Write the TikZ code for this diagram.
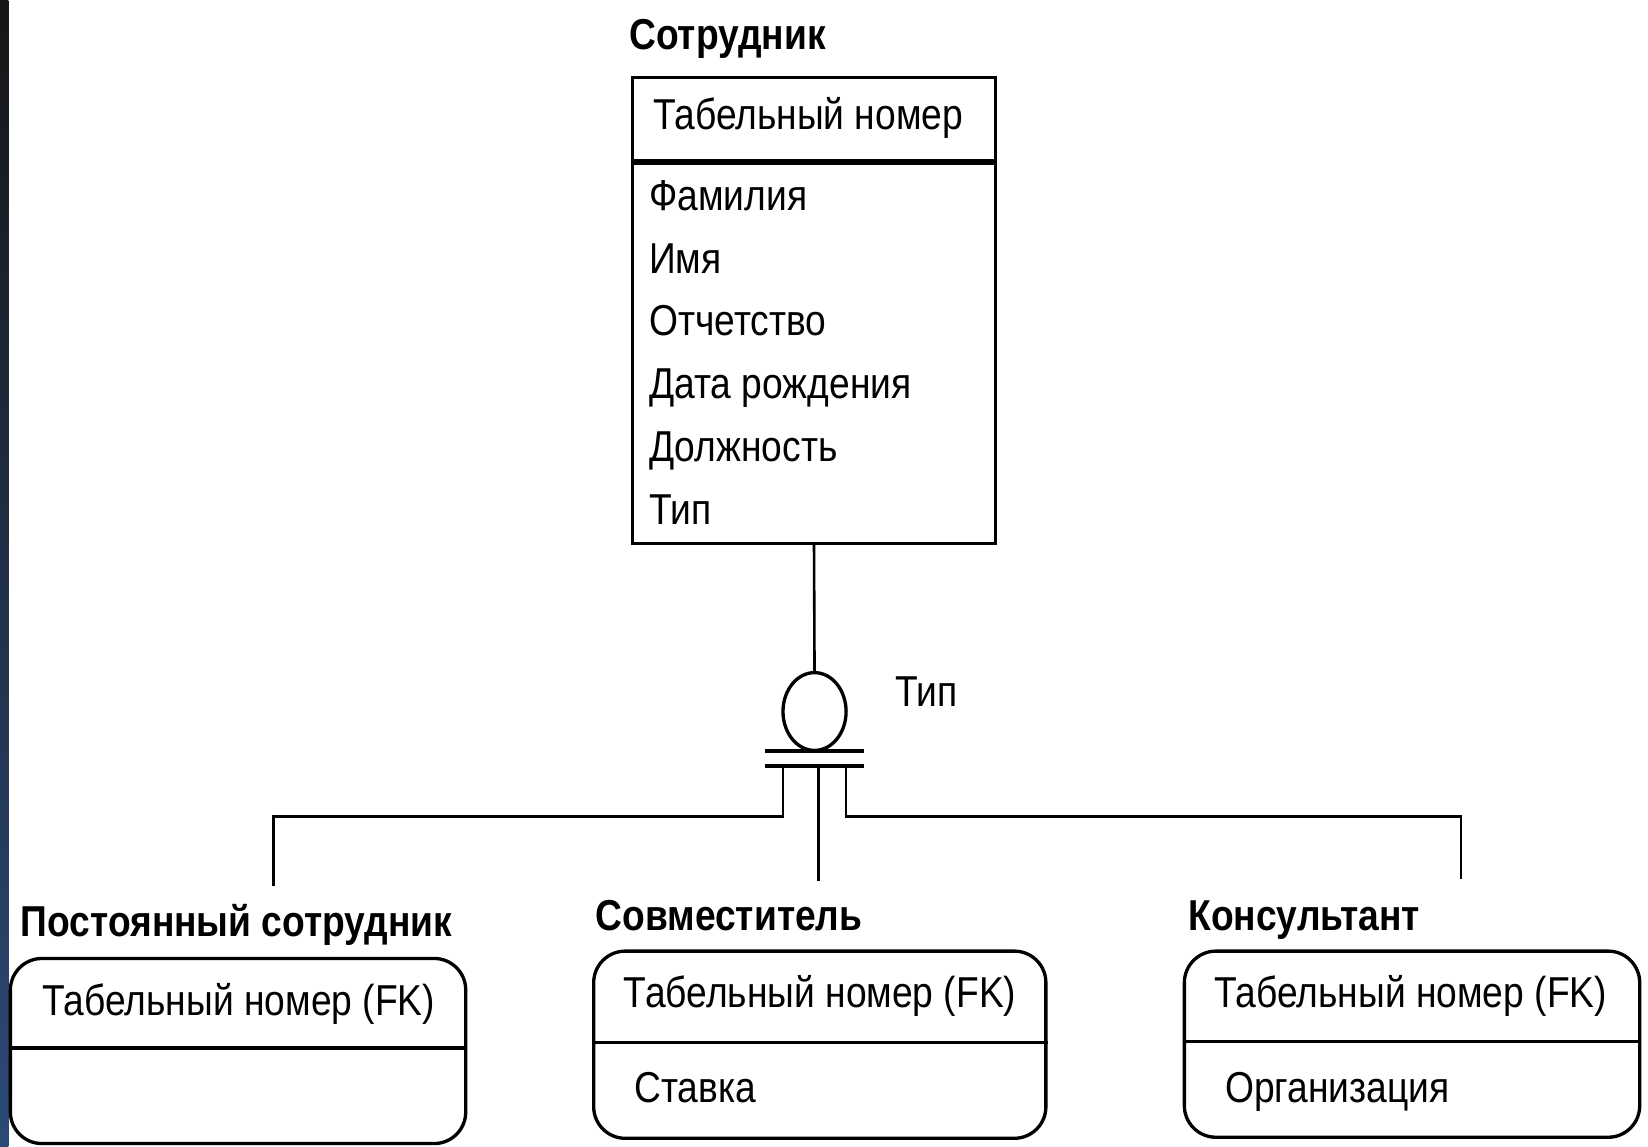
\documentclass[tikz,border=0pt]{standalone}
\usepackage{fontspec}
\setmainfont{Liberation Sans}[FakeStretch=0.86]
\usepackage{xcolor}
\usepackage{tikz}
\usetikzlibrary{backgrounds,shapes.geometric}
\definecolor{EdgeTop}{HTML}{161616}
\definecolor{EdgeBottom}{HTML}{2C4A78}
\tikzset{%
  EntBox/.style={draw,line width=0.9pt,inner sep=0pt},
  EntName/.style={anchor=base west,inner sep=0pt,font=\fontsize{11.7}{14}\selectfont\bfseries},
  EntAttr/.style={anchor=base west,inner sep=0pt,font=\fontsize{11.7}{14}\selectfont},
  ConnLine/.style={line width=0.7pt},
  BarLine/.style={line width=1.2pt}
}

\begin{document}
\begin{tikzpicture}[x=0.01cm,y=-0.01cm]
\useasboundingbox (0,0) rectangle (1568,1091);
\shade [top color=EdgeTop,bottom color=EdgeBottom] (0,0) rectangle (8,1091);

% supertype
\node (e0t) [EntName] at (598,47) {Сотрудник};
\node (e0) [EntBox,minimum width=3.45cm,minimum height=4.43cm] at (774.5,295.5) {};
\draw [line width=1.5pt] (e0.west |- 0,154) -- (e0.east |- 0,154);
\node (e0k) [EntAttr] at (621,123) {Табельный номер};
\foreach \t [count=\i from 0] in {Фамилия,Имя,Отчетство,Дата рождения,Должность,Тип} {
    \node (e0a\i) [EntAttr] at (617,200+59.8*\i) {\t};
}

% discriminator
\node (disc) [draw,ellipse,line width=0.9pt,minimum width=0.6cm,minimum height=0.74cm,inner sep=0pt] at (775,677) {};
\node (disct) [EntAttr] at (851,672) {Тип};
\coordinate (b1w) at (728,714.5);
\coordinate (b1e) at (822,714.5);
\coordinate (b2w) at (728,729);
\coordinate (b2e) at (822,729);
\coordinate (bl) at (745,729);
\coordinate (bm) at (779,729);
\coordinate (br) at (805,729);
\coordinate (s1) at (260,843);
\coordinate (s2) at (779,838);
\coordinate (s3) at (1390,836);

% subtypes
\node (e1t) [EntName] at (19,891) {Постоянный сотрудник};
\node (e1) [EntBox,rounded corners=0.3cm,minimum width=4.33cm,minimum height=1.76cm] at (226.5,1000) {};
\draw [line width=0.9pt] (e1.west |- 0,997) -- (e1.east |- 0,997);
\node (e1k) [EntAttr] at (40,966) {Табельный номер (FK)};

\node (e2t) [EntName] at (566,885) {Совместитель};
\node (e2) [EntBox,rounded corners=0.3cm,minimum width=4.30cm,minimum height=1.78cm] at (780,994) {};
\draw [line width=0.9pt] (e2.west |- 0,992) -- (e2.east |- 0,992);
\node (e2k) [EntAttr] at (593,959) {Табельный номер (FK)};
\node (e2a) [EntAttr] at (603,1049) {Ставка};

\node (e3t) [EntName] at (1130,885) {Консультант};
\node (e3) [EntBox,rounded corners=0.3cm,minimum width=4.33cm,minimum height=1.77cm] at (1343.5,993.5) {};
\draw [line width=0.9pt] (e3.west |- 0,991) -- (e3.east |- 0,991);
\node (e3k) [EntAttr] at (1155,959) {Табельный номер (FK)};
\node (e3a) [EntAttr] at (1165,1049) {Организация};

\begin{scope}[on background layer]
    \draw [ConnLine] (e0.south) -- (disc.north);
    \draw [BarLine] (b1w) -- (b1e);
    \draw [BarLine] (b2w) -- (b2e);
    \draw [ConnLine] (bl) -- ++(0,48) -| (s1);
    \draw [ConnLine] (bm) -- (s2);
    \draw [ConnLine] (br) -- ++(0,48) -| (s3);
\end{scope}
\end{tikzpicture}
\end{document}
